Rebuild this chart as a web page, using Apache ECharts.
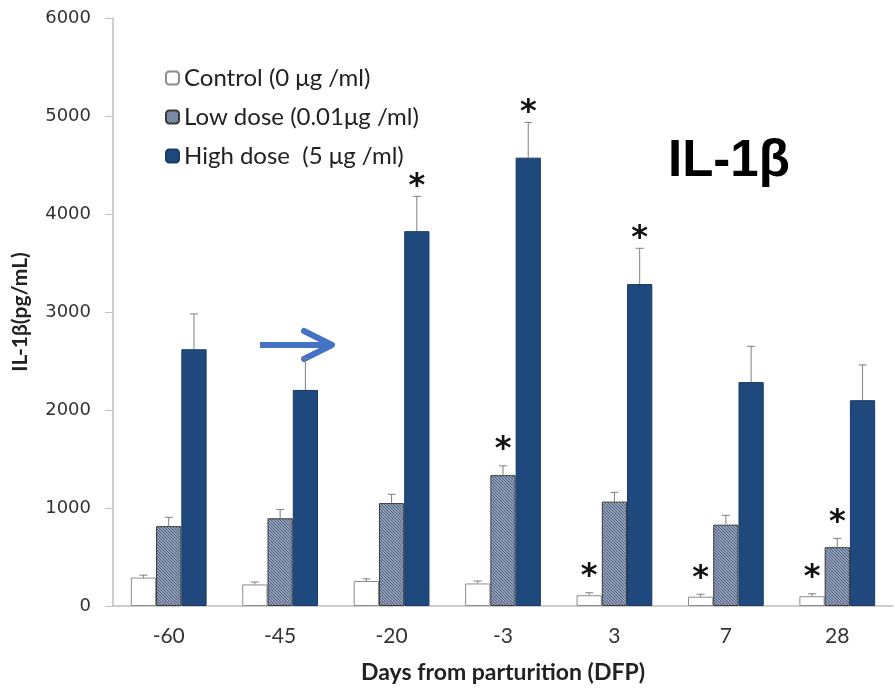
<!DOCTYPE html>
<html>
<head>
<meta charset="utf-8">
<script src="https://cdn.jsdelivr.net/npm/echarts@6/dist/echarts.min.js"></script>
<style>
  html, body { margin: 0; padding: 0; background: #fff; }
  #chart { width: 895px; height: 689px; }
</style>
</head>
<body>
<div id="chart"></div>
<script>
// 数据
const categories = ['-60', '-45', '-20', '-3', '3', '7', '28'];
const controlValues = [290, 220, 255, 230, 110, 95, 100];
const controlErrors = [25, 25, 22, 25, 25, 25, 25];
const lowValues = [815, 895, 1050, 1335, 1065, 830, 600];
const lowErrors = [90, 90, 90, 95, 95, 95, 90];
const highValues = [2620, 2205, 3825, 4575, 3285, 2285, 2100];
const highErrors = [360, 320, 355, 360, 365, 365, 360];
// 显著性标记 (*)
const controlSig = [0, 0, 0, 0, 1, 1, 1];
const lowSig = [0, 0, 0, 1, 0, 0, 1];
const highSig = [0, 0, 1, 1, 1, 0, 0];

const seriesNames = ['Control (0 μg /ml)', 'Low dose (0.01μg /ml)', 'High dose  (5 μg /ml)'];

// 斜线填充
function makeHatch() {
    const c = document.createElement('canvas');
    c.width = 6;
    c.height = 6;
    const ctx = c.getContext('2d');
    ctx.fillStyle = '#aebccf';
    ctx.fillRect(0, 0, 6, 6);
    ctx.strokeStyle = '#4a5d7e';
    ctx.lineWidth = 1.2;
    ctx.beginPath();
    for (let k = -6; k <= 12; k += 3) {
        ctx.moveTo(k, 0);
        ctx.lineTo(k + 6, 6);
    }
    ctx.stroke();
    return c;
}

const CAT_GAP = 0.32;

const errData = [];
[[controlValues, controlErrors, controlSig], [lowValues, lowErrors, lowSig], [highValues, highErrors, highSig]]
    .forEach((s, si) => {
        s[0].forEach((v, i) => errData.push([i, v, s[1][i], si, s[2][i]]));
    });

const chart = echarts.init(document.getElementById('chart'));

const option = {
    animation: false,
    grid: { left: 113, right: 2, top: 18, bottom: 83 },
    legend: {
        orient: 'vertical',
        left: 160,
        top: 61,
        itemGap: 15,
        itemWidth: 13,
        itemHeight: 13,
        data: seriesNames,
        textStyle: { fontFamily: 'Lato', fontSize: 24, color: '#222' }
    },
    xAxis: {
        type: 'category',
        data: categories,
        name: 'Days from parturition (DFP)',
        nameLocation: 'middle',
        nameGap: 55,
        nameTextStyle: { fontFamily: 'Lato', fontWeight: 'bold', fontSize: 23, color: '#222' },
        axisLine: { lineStyle: { color: '#bfbfbf', width: 1.5 } },
        axisTick: { length: 6, lineStyle: { color: '#bfbfbf' } },
        axisLabel: { fontFamily: 'Lato', fontSize: 21, color: '#333', margin: 20 }
    },
    yAxis: {
        type: 'value',
        min: 0,
        max: 6000,
        interval: 1000,
        name: 'IL-1β(pg/mL)',
        nameLocation: 'middle',
        nameGap: 82,
        nameRotate: 90,
        nameTextStyle: { fontFamily: 'Lato', fontWeight: 'bold', fontSize: 21, color: '#222' },
        axisLine: { show: true, lineStyle: { color: '#bfbfbf', width: 1.5 } },
        axisTick: { show: true, length: 8, inside: false, lineStyle: { color: '#bfbfbf' } },
        splitLine: { show: false },
        axisLabel: {
            fontFamily: 'DejaVu Sans', fontSize: 18, color: '#333', margin: 22,
            formatter: v => String(v)
        }
    },
    series: [
        {
            name: seriesNames[0],
            type: 'bar',
            data: controlValues,
            barGap: '0%',
            barCategoryGap: (CAT_GAP * 100) + '%',
            itemStyle: { color: '#ffffff', borderColor: '#8c8c8c', borderWidth: 1 }
        },
        {
            name: seriesNames[1],
            type: 'bar',
            data: lowValues,
            itemStyle: {
                color: { image: makeHatch(), repeat: 'repeat' },
                borderColor: '#3a3a3a',
                borderWidth: 1
            }
        },
        {
            name: seriesNames[2],
            type: 'bar',
            data: highValues,
            itemStyle: { color: '#1f497d', borderColor: '#1a3a66', borderWidth: 1 }
        },
        {
            type: 'custom',
            name: 'err',
            data: errData,
            z: 5,
            renderItem: function (params, api) {
                const cat = api.value(0);
                const val = api.value(1);
                const err = api.value(2);
                const si = api.value(3);
                const sig = api.value(4);
                const band = api.size([1, 0])[0];
                const barW = band * (1 - CAT_GAP) / 3;
                const base = api.coord([cat, val]);
                const x = base[0] + (si - 1) * barW;
                const yTop = api.coord([cat, val + err])[1];
                const cap = 4;
                const children = [
                    {
                        type: 'line',
                        shape: { x1: x, y1: base[1], x2: x, y2: yTop },
                        style: { stroke: '#7f7f7f', lineWidth: 1 }
                    },
                    {
                        type: 'line',
                        shape: { x1: x - cap, y1: yTop, x2: x + cap, y2: yTop },
                        style: { stroke: '#7f7f7f', lineWidth: 1 }
                    }
                ];
                if (sig) {
                    children.push({
                        type: 'text',
                        style: {
                            text: '*',
                            x: x,
                            y: yTop + (si === 2 ? 6 : 0),
                            align: 'center',
                            verticalAlign: 'bottom',
                            fontFamily: 'DejaVu Sans',
                            fontWeight: 'bold',
                            fontSize: 32,
                            fill: '#111'
                        }
                    });
                }
                return { type: 'group', children: children };
            }
        }
    ],
    graphic: [
        {
            type: 'text',
            left: 668,
            top: 136,
            style: {
                text: 'IL-1β',
                fontFamily: 'Liberation Sans',
                fontWeight: 'bold',
                fontSize: 51,
                fill: '#000'
            }
        },
        {
            // 箭头
            type: 'group',
            children: [
                {
                    type: 'line',
                    shape: { x1: 260, y1: 345, x2: 330, y2: 345 },
                    style: { stroke: '#4472c4', lineWidth: 6 }
                },
                {
                    type: 'polyline',
                    shape: { points: [[304, 331], [332, 345], [304, 359]] },
                    style: { stroke: '#4472c4', lineWidth: 6, lineCap: 'round', lineJoin: 'round', fill: null }
                }
            ]
        }
    ]
};

chart.setOption(option);
</script>
</body>
</html>
